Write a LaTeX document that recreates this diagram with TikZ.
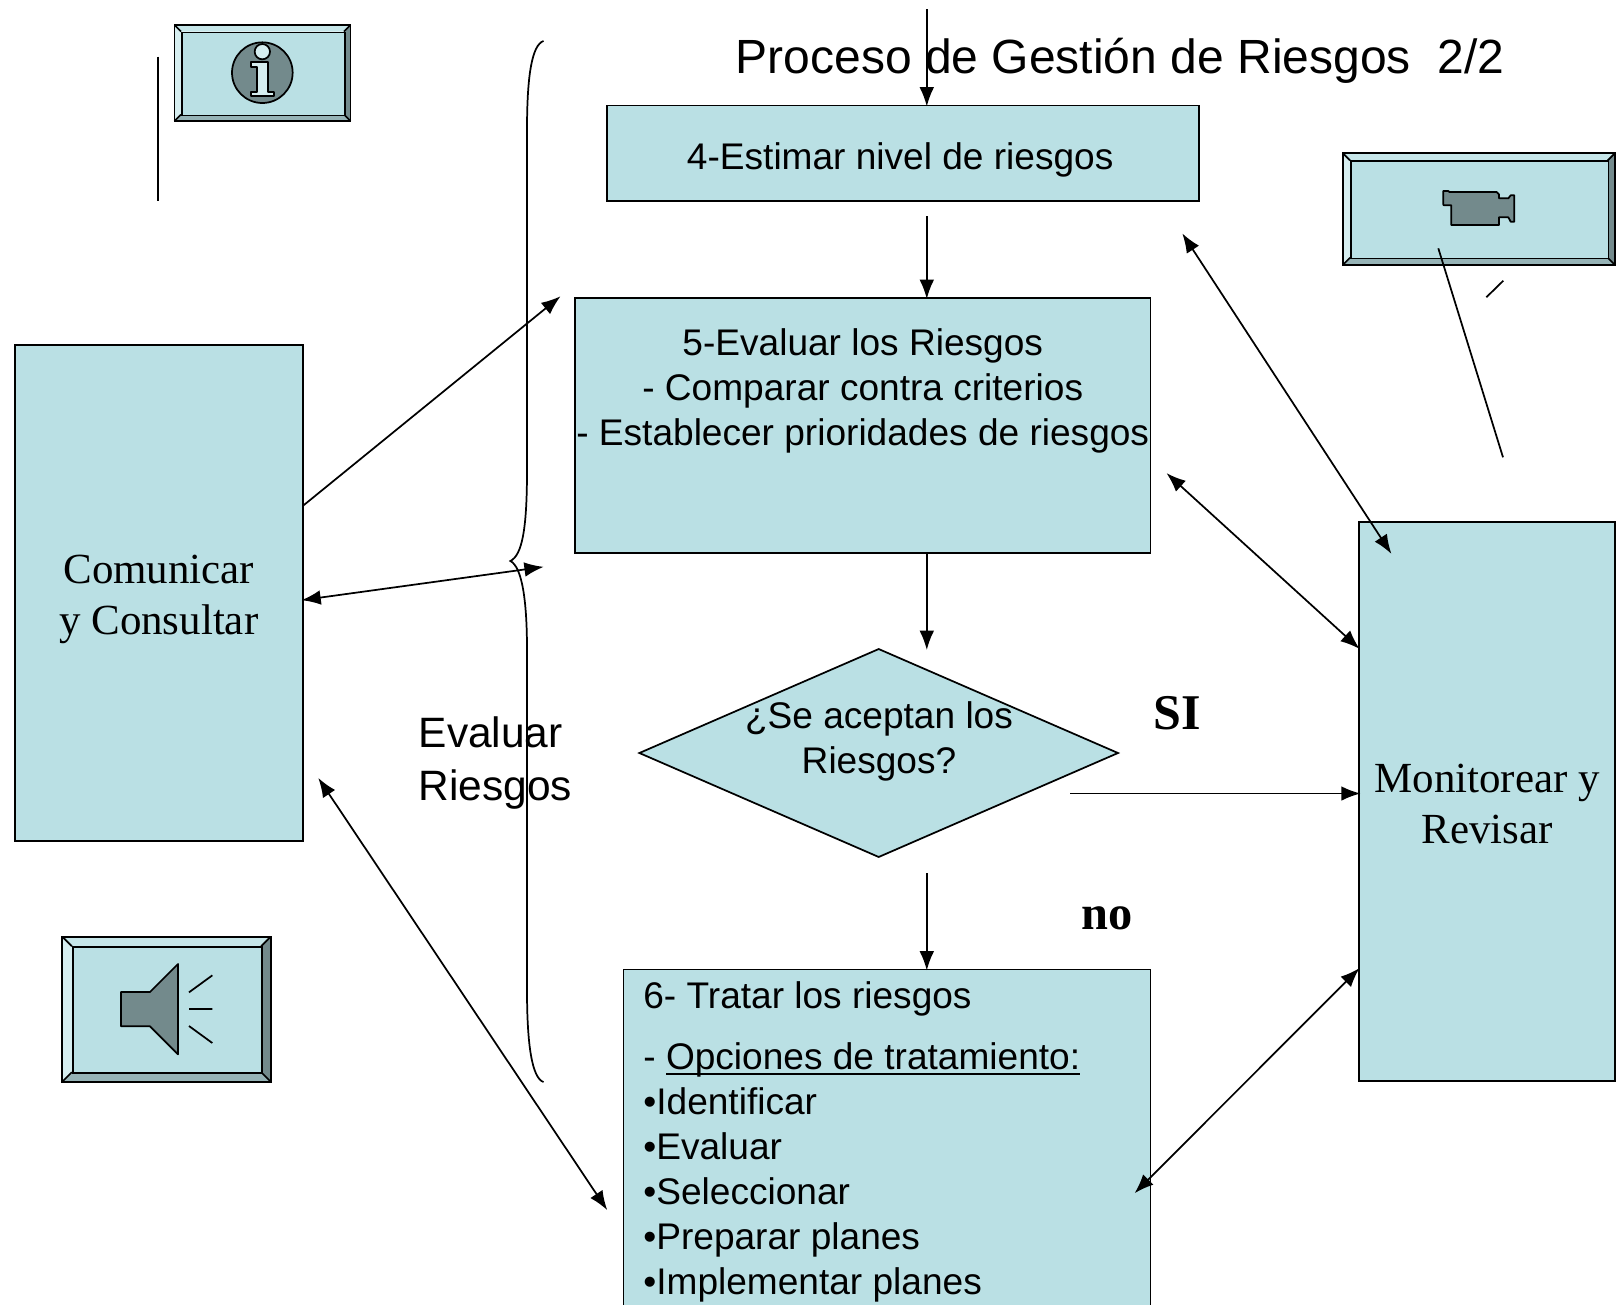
\documentclass[tikz,border=0pt]{standalone}
\usepackage{fontspec}
\setmainfont{Liberation Serif}
\setsansfont{Liberation Sans}
\usetikzlibrary{arrows.meta,shapes.geometric,calc}
\definecolor{face}{RGB}{186,224,228}
\definecolor{iconDark}{RGB}{115,138,140}
\definecolor{bevL}{RGB}{214,238,240}
\definecolor{bevT}{RGB}{198,230,233}
\definecolor{bevB}{RGB}{150,179,182}
\newlength{\myulw}
\newcommand{\myul}[1]{\settowidth{\myulw}{#1}\rlap{\rule[-4pt]{\myulw}{1.2pt}}#1}
\newcommand{\bevelbtn}[6]{%
  \pgfmathsetmacro{\myax}{#2+#6}\pgfmathsetmacro{\myay}{#3+#6}%
  \pgfmathsetmacro{\mybx}{#4-#6}\pgfmathsetmacro{\myby}{#5-#6}%
  \fill[bevT] (#2,#3) -- (#4,#3) -- (\mybx,\myay) -- (\myax,\myay) -- cycle;
  \fill[bevL] (#2,#3) -- (\myax,\myay) -- (\myax,\myby) -- (#2,#5) -- cycle;
  \fill[iconDark] (#4,#3) -- (#4,#5) -- (\mybx,\myby) -- (\mybx,\myay) -- cycle;
  \fill[bevB] (#2,#5) -- (#4,#5) -- (\mybx,\myby) -- (\myax,\myby) -- cycle;
  \draw[ln] (#2,#3) rectangle (#4,#5);
  \draw[ln] (#2,#3) -- (\myax,\myay) (#4,#3) -- (\mybx,\myay) (#2,#5) -- (\myax,\myby) (#4,#5) -- (\mybx,\myby);
  \pgfmathsetmacro{\mywd}{(\mybx-\myax)*0.75}\pgfmathsetmacro{\myht}{(\myby-\myay)*0.75}%
  \node[draw=black,line width=1.3pt,fill=face,inner sep=0pt,anchor=north west,minimum width=\mywd pt,minimum height=\myht pt] (#1) at (\myax,\myay) {};
}
\tikzset{
  ln/.style={line width=1.3pt,draw=black},
  flowbox/.style={draw=black,fill=face,line width=1.3pt,inner sep=0pt,anchor=north west,align=center},
  sansfont/.style={font=\sffamily\fontsize{27.8}{33.75}\selectfont},
  sanstxt/.style={sansfont,align=center,inner sep=0pt},
  serifbox/.style={font=\fontsize{32.2}{38}\selectfont},
  conn/.style={ln,shorten >=-1.5pt,-{Latex[length=14.5pt,width=11pt]}},
  dconn/.style={ln,shorten >=-1pt,shorten <=-1pt,{Latex[length=14.5pt,width=11pt]}-{Latex[length=14.5pt,width=11pt]}},
  icon/.style={draw=black,fill=iconDark,line width=1.3pt,line join=round},
}
\begin{document}
\begin{tikzpicture}[x=0.75pt,y=-0.75pt]
\useasboundingbox (0,0) rectangle (1620,1304);
\clip (0,0) rectangle (1620,1304);

% boxes
\node[flowbox,sansfont,minimum width=444pt,minimum height=71.6pt] (b4) at (606,104.5)
  {\parbox[c][71pt][t]{440pt}{\centering\vspace*{28pt}\hspace*{-4pt}4-Estimar nivel de riesgos}};
\node[flowbox,sansfont,minimum width=431.8pt,minimum height=191.6pt] (b5) at (574,297)
  {\parbox[c][191pt][t]{429.4pt}{\centering\vspace*{22.6pt}5-Evaluar los Riesgos\\- Comparar contra criterios\\\makebox[0pt]{- Establecer prioridades de riesgos}}};
\node[flowbox,sansfont,minimum width=395.4pt,minimum height=260pt] (b6) at (622.5,968.5)
  {\parbox[c][260pt][t]{395.4pt}{\raggedright\leftskip=15pt\vspace*{9.5pt}6- Tratar los riesgos\\[11.8pt]- \myul{Opciones de tratamiento:}\\•Identificar\\•Evaluar\\•Seleccionar\\•Preparar planes\\•Implementar planes}};
\node[flowbox,serifbox,minimum width=216.2pt,minimum height=372pt] (com) at (13.8,344.3)
  {\parbox[c][371pt][t]{214pt}{\centering\vspace*{157pt}Comunicar\\y Consultar}};
\node[flowbox,serifbox,minimum width=192.3pt,minimum height=419.4pt] (mon) at (1358,521)
  {\parbox[c][418pt][t]{190pt}{\centering\vspace*{181pt}Monitorear y\\Revisar}};
\node[draw=black,fill=face,line width=1.3pt,shape=diamond,inner sep=0pt,minimum width=359.5pt,minimum height=156.5pt] (q) at (878.7,753) {};
\node[sanstxt] (qt) at (879,741.5) {¿Se aceptan los\\Riesgos?};

% free texts
\node[anchor=base west,inner sep=0pt,font=\sffamily\fontsize{36}{42}\selectfont] (title) at (735.6,73.5) {Proceso de Gestión de Riesgos\ \ 2/2};
\node[anchor=north west,inner sep=0pt,align=left,font=\sffamily\fontsize{31.85}{39.5}\selectfont] (ev) at (418.5,716.5) {Evaluar\\Riesgos};
\node[anchor=base west,inner sep=0pt,font=\bfseries\fontsize{37.5}{44}\selectfont] (si) at (1153.5,729.5) {SI};
\node[anchor=base west,inner sep=0pt,font=\bfseries\fontsize{36.3}{42}\selectfont] (no) at (1081,929.5) {no};

% brace
\draw[ln] (543.5,41) .. controls (532,45) and (527,75) .. (527,130) -- (527,470)
  .. controls (527,530) and (522,555) .. (510.4,561)
  .. controls (522,567) and (527,600) .. (527,650) -- (527,990)
  .. controls (527,1045) and (532,1078) .. (543.5,1082);

% buttons
\bevelbtn{info}{174.5}{25}{350.5}{121}{6.5}
\bevelbtn{cam}{1342.7}{153}{1615}{265}{7.3}
\bevelbtn{spk}{62.3}{936.7}{270.7}{1081.7}{9.5}

% info icon
\begin{scope}[shift={(140,0)},x=0.25pt,y=-0.25pt]
  \draw[icon] (367,218) circle[radius=91];
  \draw[icon,fill=bevL] (367,155) circle[radius=23];
  \draw[icon,fill=bevL] (333,187) -- (385,187) -- (385,275) -- (403,275) -- (403,287) -- (333,287) -- (333,275) -- (352,275) -- (352,200) -- (333,200) -- cycle;
\end{scope}
% camera icon
\begin{scope}[shift={(1320,130)},x=0.25pt,y=-0.25pt]
  \draw[icon] (370,183) -- (385,183) -- (388,186) -- (530,186) -- (537,193) -- (537,205) -- (565,205) -- (572,196) -- (583,196) -- (583,275) -- (572,275) -- (565,262) -- (537,262) -- (537,285) -- (394,285) -- (394,226) -- (372,226) -- (370,224) -- cycle;
\end{scope}
% speaker icon
\begin{scope}[shift={(40,920)},x=0.25pt,y=-0.25pt]
  \draw[icon] (243,216) -- (330,216) -- (414,132) -- (414,403) -- (330,319) -- (243,319) -- cycle;
  \draw[ln] (447,217) -- (517,166) (447,267) -- (517,267) (447,318) -- (517,369);
\end{scope}

% free ends
\coordinate (xm) at (926.8,0);
\coordinate (topS) at (926.8,9.3);
\coordinate (e45s) at (926.8,216);
\coordinate (e5c) at (926.8,648);
\coordinate (qs) at (926.8,873);
\coordinate (a1) at (559,297.5);
\coordinate (a2s) at (302.7,600);
\coordinate (a2e) at (542.4,567);
\coordinate (a1s) at (302.7,506);
\coordinate (a3s) at (1183,234.5);
\coordinate (a3e) at (1390.7,552.8);
\coordinate (a4s) at (1167.5,474);
\coordinate (a4e) at (1358.6,648);
\coordinate (a5s) at (1070.4,793.5);
\coordinate (a5e) at (1358.6,793.5);
\coordinate (a6s) at (319,779);
\coordinate (a6e) at (606.5,1209);
\coordinate (a7s) at (1135.5,1192.3);
\coordinate (a7e) at (1358.6,969);
\coordinate (l1s) at (158.3,56.7);
\coordinate (l1e) at (158.3,201);
\coordinate (l2s) at (1438.3,248.3);
\coordinate (l2e) at (1503,457.3);
\coordinate (l3s) at (1486.3,297.3);
\coordinate (l3e) at (1503.3,280.7);

% connectors
\draw[conn] (topS) -- (xm |- b4.north);
\draw[conn] (e45s) -- (xm |- b5.north);
\draw[conn] (xm |- b5.south) -- (e5c);
\draw[conn] (qs) -- (xm |- b6.north);
\draw[conn] (a1s) -- (a1);
\draw[dconn] (a2s) -- (a2e);
\draw[dconn] (a3s) -- (a3e);
\draw[dconn] (a4s) -- (a4e);
\draw[conn] (a5s) -- (a5e);
\draw[dconn] (a6s) -- (a6e);
\draw[dconn] (a7s) -- (a7e);
\draw[ln] (l1s) -- (l1e);
\draw[ln] (l2s) -- (l2e);
\draw[ln] (l3s) -- (l3e);
\end{tikzpicture}
\end{document}
